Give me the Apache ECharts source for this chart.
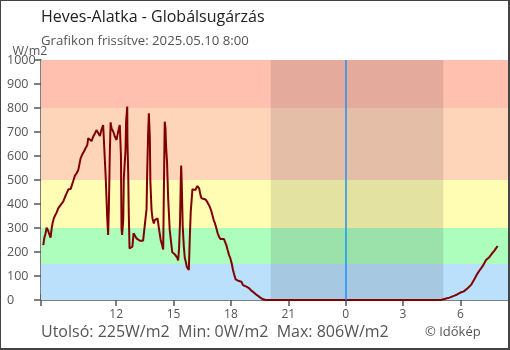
<!DOCTYPE html>
<html><head><meta charset="utf-8">
<script src="https://cdn.jsdelivr.net/npm/echarts@6/dist/echarts.min.js"></script>
<style>
html,body{margin:0;padding:0;background:#fff;}
#chart{position:absolute;left:0;top:0;width:510px;height:350px;}
#frame{position:absolute;left:0;top:0;width:510px;height:350px;box-sizing:border-box;border-style:solid;border-color:#444;border-width:1px 2px 2px 1px;pointer-events:none;}
</style></head><body>
<div id="chart"></div><div id="frame"></div>
<script>
const chartTitle = 'Heves-Alatka - Globálsugárzás';
const updatedText = 'Grafikon frissítve: 2025.05.10 8:00';
const statsText = 'Utolsó: 225W/m2  Min: 0W/m2  Max: 806W/m2';
const creditText = '© Időkép';
const yUnit = 'W/m2';

// time in hours from 00:00 of 2025.05.09 (24 = midnight)
const hours = [8.19,8.24,8.31,8.36,8.43,8.50,8.57,8.63,8.68,8.75,8.83,8.89,8.97,9.06,9.15,9.23,9.32,9.41,9.50,9.55,
9.62,9.70,9.76,9.84,9.93,10.02,10.07,10.14,10.23,10.31,10.40,10.49,10.54,10.63,10.71,10.80,10.89,10.97,11.06,11.15,
11.24,11.32,11.41,11.46,11.53,11.58,11.62,11.67,11.71,11.76,11.85,11.93,12.02,
12.07,12.14,12.19,12.25,12.28,12.31,12.37,12.40,12.49,12.52,12.58,12.59,12.63,12.66,12.70,12.80,12.85,12.91,12.98,
13.06,13.15,13.24,13.32,13.41,13.50,13.59,13.62,13.67,13.71,13.76,13.79,13.85,13.90,13.97,14.02,14.11,14.16,14.19,
14.25,14.33,14.40,14.46,14.49,14.54,14.58,14.61,14.66,14.72,14.80,14.89,14.93,14.98,15.07,15.15,15.20,15.24,15.29,
15.34,15.38,15.40,15.43,15.48,15.54,15.59,15.64,15.69,15.76,15.80,15.85,15.90,15.94,15.99,16.06,16.14,16.20,16.25,
16.28,16.34,16.41,16.46,16.54,16.68,16.75,16.82,16.89,16.96,17.03,17.10,17.17,17.24,17.31,17.38,17.45,17.64,17.71,
17.76,17.83,17.90,17.97,18.04,18.11,18.18,18.25,18.32,18.42,18.55,18.63,18.72,18.84,18.95,19.07,19.19,19.30,19.42,
19.54,19.68,19.82,
28.99,29.08,29.25,29.43,29.56,29.69,29.81,29.91,30.03,30.16,30.26,30.38,30.47,30.56,30.64,30.73,30.82,30.90,30.99,
31.08,31.17,31.25,31.34,31.43,31.51,31.60,31.69,31.78,31.86,31.95];

const radiation = [229,257,278,301,292,275,260,299,322,343,351,365,382,392,398,410,428,444,461,468,
462,458,497,517,528,542,562,590,607,618,632,646,674,667,662,681,694,708,701,683,
711,729,725,500,347,271,389,618,740,715,701,681,667,
688,715,729,604,299,271,330,507,625,743,806,660,530,361,215,208,222,278,271,
257,250,247,250,247,254,380,521,690,778,681,493,375,340,319,333,329,340,326,
290,250,230,210,423,743,715,639,576,423,292,285,200,195,190,185,175,165,215,
326,500,560,486,306,222,174,160,139,132,125,257,368,410,462,455,458,465,475,
479,465,437,424,421,419,410,400,389,375,354,333,319,299,278,264,254,254,250,
229,208,188,174,153,125,104,86,79,79,76,62,60,55,49,39,32,24,17,
10,3,0,
0,3,6,10,14,18,22,28,32,35,42,49,56,63,74,86,100,111,122,
132,142,153,167,174,178,188,197,206,215,225];

const bandEdges = [0,150,300,500,800,1000];
const bandColors = ['#bbe0fc','#adfdbd','#fffdb4','#ffd5ba','#ffc0b0'];
const nightStart = 20.08, nightEnd = 29.11;
const midnight = 24;
const xMin = 8.07, xMax = 32.49;
const xTickHours = [12,15,18,21,24,27,30];

const FONT = 'Open Sans';
const seriesData = hours.map((h,i)=>[h, radiation[i]]);
const bandAreas = bandColors.map((c,i)=>[{yAxis: bandEdges[i], itemStyle:{color:c}},{yAxis: bandEdges[i+1]}]);

const chart = echarts.init(document.getElementById('chart'), null, {renderer:'canvas'});
chart.setOption({
  animation:false,
  backgroundColor:'#fff',
  textStyle:{fontFamily:FONT},
  title:[
    {text: chartTitle, subtext: updatedText, left: 41, top: 9, padding:0, itemGap: 10,
     textStyle:{fontSize:16, fontWeight:'normal', color:'#222', fontFamily:FONT},
     subtextStyle:{fontSize:13.2, color:'#555', fontFamily:FONT}},
    {text: statsText, left: 41, top: 324, padding:0,
     textStyle:{fontSize:16, fontWeight:'normal', color:'#555', fontFamily:FONT}},
    {text: creditText, left: 425, top: 326, padding:0,
     textStyle:{fontSize:13, fontWeight:'normal', color:'#555', fontFamily:FONT}}
  ],
  grid:{left:41, right:2, top:60, bottom:50, containLabel:false},
  xAxis:[{
    type:'value', min:xMin, max:xMax,
    axisLine:{show:true, lineStyle:{color:'#555', width:1.5}},
    axisTick:{show:true, customValues:[xMin].concat(xTickHours), length:6, lineStyle:{color:'#555', width:1.5}},
    axisLabel:{customValues:xTickHours, formatter:v=>String(Math.round(v)%24), color:'#555', fontSize:12, margin:9, fontFamily:FONT},
    splitLine:{show:false}
  },{
    type:'value', min:xMin, max:xMax, position:'bottom',
    axisLine:{show:false},
    axisTick:{show:true, inside:true, customValues:[xMin].concat(xTickHours), length:6, lineStyle:{color:'#555', width:1.5}},
    axisLabel:{show:false},
    splitLine:{show:false}
  }],
  yAxis:{
    type:'value', min:0, max:1000, interval:100,
    name: yUnit, nameLocation:'end', nameGap:9, nameMoveOverlap:false,
    nameTextStyle:{color:'#555', fontSize:12.5, align:'center', verticalAlign:'middle', padding:[0,22,0,0], fontFamily:FONT},
    axisLine:{show:true, lineStyle:{color:'#555', width:1.5}},
    axisTick:{show:true, length:7, lineStyle:{color:'#555', width:1.5}},
    axisLabel:{align:'left', margin:34, color:'#555', fontSize:12.5, fontFamily:FONT, formatter:v=>String(v)},
    splitLine:{show:false}
  },
  series:[
    {type:'line', data:[], z:1, silent:true,
     markArea:{silent:true, data:bandAreas}},
    {type:'line', data:[], z:2, silent:true,
     markArea:{silent:true, itemStyle:{color:'rgba(0,0,0,0.105)'}, data:[[{xAxis:nightStart},{xAxis:nightEnd}]]}},
    {type:'line', data:[], z:4, silent:true,
     markLine:{silent:true, symbol:['none','none'], label:{show:false},
       lineStyle:{color:'#1e90ff', width:1.5, type:'solid', opacity:1}, data:[{xAxis:midnight}]}},
    {type:'line', data:seriesData, z:3, showSymbol:false, symbol:'none', color:'#800000',
     lineStyle:{color:'#800000', width:2}, clip:false}
  ]
});
</script>
</body></html>
